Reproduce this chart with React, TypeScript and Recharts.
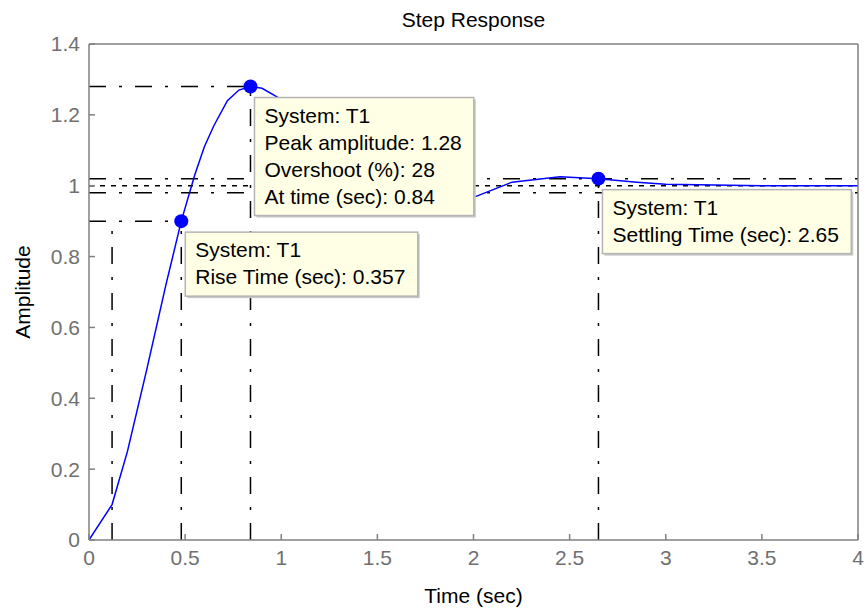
import { ComposedChart, Line, Scatter, XAxis, YAxis, ReferenceLine, Label } from 'recharts';

// step response samples
const time = [0, 0.12, 0.2, 0.3, 0.4, 0.48, 0.55, 0.6, 0.65, 0.72, 0.78, 0.84, 0.9, 0.98, 1.1, 1.3, 1.5, 1.7, 1.85, 2.0, 2.2, 2.45, 2.65, 2.85, 3.0, 3.5, 4.0];
const amplitude = [0, 0.1, 0.25, 0.48, 0.72, 0.9, 1.03, 1.11, 1.17, 1.24, 1.27, 1.28, 1.275, 1.25, 1.19, 1.07, 0.97, 0.93, 0.94, 0.967, 1.01, 1.025, 1.02, 1.01, 1.004, 1.0, 1.0];

const xTicks = [0, 0.5, 1, 1.5, 2, 2.5, 3, 3.5, 4];
const yTicks = [0, 0.2, 0.4, 0.6, 0.8, 1, 1.2, 1.4];

// characteristic points: rise (90%), peak, settling
const markerTimes = [0.48, 0.84, 2.65];
const markerAmps = [0.9, 1.28, 1.02];
const markerNotes = [
  ['System: T1', 'Rise Time (sec): 0.357'],
  ['System: T1', 'Peak amplitude: 1.28', 'Overshoot (%): 28', 'At time (sec): 0.84'],
  ['System: T1', 'Settling Time (sec): 2.65'],
];
const riseStartTime = 0.12;
const settleBand = [0.98, 1.02];
const finalValue = 1;

const FONT = '"Liberation Sans", Arial, sans-serif';
const FS = 21;
const DASH_DOT = '17 13 3 13';

const curve = time.map((t, i) => ({ t, amp: amplitude[i] }));
const markers = markerTimes.map((t, i) => ({ t, amp: markerAmps[i], note: markerNotes[i] }));

let ctx: CanvasRenderingContext2D | null = null;
function textWidth(s: string) {
  if (!ctx) {
    ctx = document.createElement('canvas').getContext('2d');
    if (ctx) ctx.font = `${FS}px ${FONT}`;
  }
  return ctx ? ctx.measureText(s).width : s.length * 10;
}

function Dot(props: any) {
  const { cx, cy } = props;
  return <circle cx={cx} cy={cy} r={7} fill="#0000ff" />;
}

function NoteBox(props: any) {
  const { cx, cy, payload } = props;
  const lines: string[] = payload.note;
  const w = Math.max(...lines.map(textWidth)) + 22;
  const h = lines.length * 27 + 10;
  const x = cx + 4;
  const y = cy + 11;
  return (
    <g>
      <rect x={x + 2} y={y + 2} width={w} height={h} fill="#c8c8c8" />
      <rect x={x} y={y} width={w} height={h} fill="#ffffe6" stroke="#b4b4b4" strokeWidth={1.5} />
      {lines.map((s, i) => (
        <text key={i} x={x + 10} y={y + 25 + i * 27} fontSize={FS} fontFamily={FONT} fill="#000">
          {s}
        </text>
      ))}
    </g>
  );
}

const tickStyle = { fontSize: FS, fontFamily: FONT, fill: '#707070' };
const labelStyle = { fontSize: FS, fontFamily: FONT, fill: '#000' };

export default function App() {
  return (
    <div style={{ position: 'absolute', left: 0, top: 0, background: '#fff' }}>
      <ComposedChart width={867} height={613} data={curve} margin={{ top: 34, right: 0, bottom: 33, left: 29 }}>
        <XAxis
          dataKey="t"
          type="number"
          domain={[0, 4]}
          ticks={xTicks}
          height={40}
          tickSize={-6}
          tickMargin={16}
          tick={tickStyle}
          stroke="#808080"
          strokeWidth={1.5}
        >
          <Label value="Time (sec)" position="bottom" offset={8} style={labelStyle} />
        </XAxis>
        <XAxis
          xAxisId="top"
          orientation="top"
          dataKey="t"
          type="number"
          domain={[0, 4]}
          ticks={xTicks}
          height={10}
          tickSize={-6}
          tick={false}
          stroke="#808080"
          strokeWidth={1.5}
        >
          <Label value="Step Response" position="top" offset={7} style={labelStyle} />
        </XAxis>
        <YAxis
          type="number"
          domain={[0, 1.4]}
          ticks={yTicks}
          width={60}
          tickSize={-6}
          tickMargin={15}
          tick={tickStyle}
          stroke="#808080"
          strokeWidth={1.5}
          allowDataOverflow
        >
          <Label
            content={({ viewBox }: any) => {
              const cx = viewBox.x + viewBox.width - 67;
              const cy = viewBox.y + viewBox.height / 2;
              return (
                <text x={cx} y={cy} transform={`rotate(-90, ${cx}, ${cy})`} textAnchor="middle" dominantBaseline="central" {...labelStyle}>
                  Amplitude
                </text>
              );
            }}
          />
        </YAxis>
        <YAxis
          yAxisId="right"
          orientation="right"
          type="number"
          domain={[0, 1.4]}
          ticks={yTicks}
          width={9}
          tickSize={-6}
          tick={false}
          stroke="#808080"
          strokeWidth={1.5}
        />

        {/* settling band and final value */}
        {settleBand.map((v) => (
          <ReferenceLine key={v} y={v} stroke="#000" strokeWidth={1.5} strokeDasharray={DASH_DOT} />
        ))}
        <ReferenceLine y={finalValue} stroke="#000" strokeWidth={1.5} strokeDasharray="5 6" />

        {/* rise time guides */}
        <ReferenceLine segment={[{ x: 0, y: markerAmps[0] }, { x: markerTimes[0], y: markerAmps[0] }]} stroke="#000" strokeWidth={1.5} strokeDasharray={DASH_DOT} />
        <ReferenceLine segment={[{ x: riseStartTime, y: 0 }, { x: riseStartTime, y: markerAmps[0] }]} stroke="#000" strokeWidth={1.5} strokeDasharray={DASH_DOT} />
        <ReferenceLine segment={[{ x: markerTimes[0], y: 0 }, { x: markerTimes[0], y: markerAmps[0] }]} stroke="#000" strokeWidth={1.5} strokeDasharray={DASH_DOT} />

        {/* peak guides */}
        <ReferenceLine segment={[{ x: 0, y: markerAmps[1] }, { x: markerTimes[1], y: markerAmps[1] }]} stroke="#000" strokeWidth={1.5} strokeDasharray={DASH_DOT} />
        <ReferenceLine segment={[{ x: markerTimes[1], y: 0 }, { x: markerTimes[1], y: markerAmps[1] }]} stroke="#000" strokeWidth={1.5} strokeDasharray={DASH_DOT} />

        {/* settling time guide */}
        <ReferenceLine segment={[{ x: markerTimes[2], y: 0 }, { x: markerTimes[2], y: markerAmps[2] }]} stroke="#000" strokeWidth={1.5} strokeDasharray={DASH_DOT} />

        <Line type="linear" dataKey="amp" stroke="#0000ff" strokeWidth={1.5} dot={false} isAnimationActive={false} />
        <Scatter data={markers} dataKey="amp" shape={Dot} isAnimationActive={false} />
        <Scatter data={markers} dataKey="amp" shape={NoteBox} isAnimationActive={false} />
      </ComposedChart>
    </div>
  );
}
